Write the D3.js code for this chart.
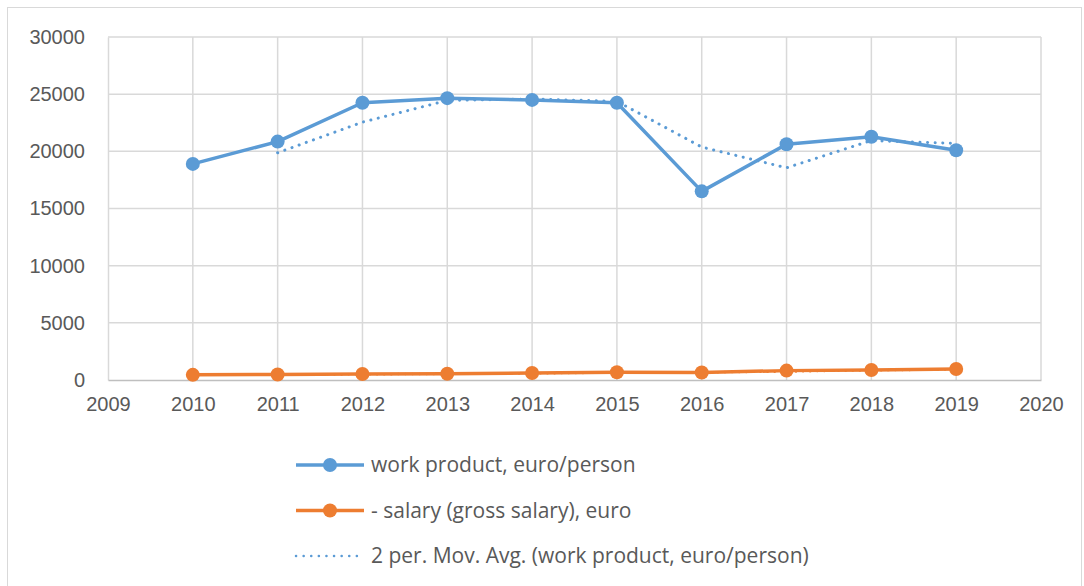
<!DOCTYPE html>
<html>
<head>
<meta charset="utf-8">
<script src="https://cdn.jsdelivr.net/npm/d3@7"></script>
<style>
  body { margin: 0; background: #fff; }
  svg { display: block; font-family: "Open Sans", "Liberation Sans", sans-serif; }
  .tick text { fill: #595959; font-size: 20px; }
  .legend text { fill: #595959; font-size: 21px; }
</style>
</head>
<body>
<svg width="1084" height="586"></svg>
<script>
// Chart data
let years = [2010, 2011, 2012, 2013, 2014, 2015, 2016, 2017, 2018, 2019];
let workProduct = [18900, 20850, 24250, 24650, 24500, 24250, 16500, 20620, 21270, 20100];
let salary = [450, 480, 520, 550, 610, 680, 660, 820, 880, 960];
let yTicks = [0, 5000, 10000, 15000, 20000, 25000, 30000];
let xTicks = [2009, 2010, 2011, 2012, 2013, 2014, 2015, 2016, 2017, 2018, 2019, 2020];
let legendLabels = ["work product, euro/person", "- salary (gross salary), euro", "2 per. Mov. Avg. (work product, euro/person)"];

let blue = "#5B9BD5";
let orange = "#ED7D31";

let svg = d3.select("svg");
let margin = {left: 108, right: 43, top: 37, bottom: 206};
let width = 1084 - margin.left - margin.right;
let height = 586 - margin.top - margin.bottom;

// outer chart border
svg.append("rect")
    .attr("x", 7.5).attr("y", 7.5)
    .attr("width", 1074).attr("height", 590)
    .attr("fill", "none")
    .attr("stroke", "#D9D9D9");

let x = d3.scaleLinear().domain([2009, 2020]).range([0, width]);
let y = d3.scaleLinear().domain([0, 30000]).range([height, 0]);

let g = svg.append("g")
    .attr("transform", "translate(" + margin.left + "," + margin.top + ")");

// gridlines
g.selectAll("line.hgrid")
    .data(yTicks.slice(1))
    .enter().append("line")
    .attr("class", "hgrid")
    .attr("x1", 0).attr("x2", width)
    .attr("y1", function(d) { return y(d); })
    .attr("y2", function(d) { return y(d); })
    .attr("stroke", "#D9D9D9").attr("stroke-width", 1.5);

g.selectAll("line.vgrid")
    .data(xTicks.slice(1))
    .enter().append("line")
    .attr("class", "vgrid")
    .attr("x1", function(d) { return x(d); })
    .attr("x2", function(d) { return x(d); })
    .attr("y1", 0).attr("y2", height)
    .attr("stroke", "#D9D9D9").attr("stroke-width", 1.5);

// axes
let yAxis = g.append("g")
    .call(d3.axisLeft(y).tickValues(yTicks).tickSize(0).tickPadding(23).tickFormat(d3.format("d")));
yAxis.select(".domain").attr("stroke", "#D9D9D9").attr("stroke-width", 1.5);

let xAxis = g.append("g")
    .attr("transform", "translate(0," + height + ")")
    .call(d3.axisBottom(x).tickValues(xTicks).tickSize(0).tickPadding(17).tickFormat(d3.format("d")));
xAxis.select(".domain").attr("stroke", "#BFBFBF").attr("stroke-width", 1.5);

// moving averages (2 period)
function movAvg(vals) {
    let out = [];
    for (let i = 1; i < vals.length; ++i) {
        out.push({year: years[i], v: (vals[i - 1] + vals[i]) / 2});
    }
    return out;
}

let line = d3.line()
    .x(function(d) { return x(d.year); })
    .y(function(d) { return y(d.v); });

function pairs(vals) {
    return vals.map(function(v, i) { return {year: years[i], v: v}; });
}

// salary trend (faint, not in legend)
g.append("path")
    .datum(movAvg(salary))
    .attr("d", line)
    .attr("fill", "none")
    .attr("stroke", orange)
    .attr("stroke-width", 2.5)
    .attr("stroke-linecap", "round")
    .attr("stroke-dasharray", "0.1 7");

// series lines
[[workProduct, blue], [salary, orange]].forEach(function(s) {
    g.append("path")
        .datum(pairs(s[0]))
        .attr("d", line)
        .attr("fill", "none")
        .attr("stroke", s[1])
        .attr("stroke-width", 3.5)
        .attr("stroke-linejoin", "round");

    g.selectAll(null)
        .data(pairs(s[0]))
        .enter().append("circle")
        .attr("cx", function(d) { return x(d.year); })
        .attr("cy", function(d) { return y(d.v); })
        .attr("r", 7)
        .attr("fill", s[1]);
});

// work product moving average
g.append("path")
    .datum(movAvg(workProduct))
    .attr("d", line)
    .attr("fill", "none")
    .attr("stroke", blue)
    .attr("stroke-width", 3)
    .attr("stroke-linecap", "round")
    .attr("stroke-dasharray", "0.1 7.5");

// legend
let legend = svg.append("g").attr("class", "legend")
    .attr("transform", "translate(296,465)");

let items = legend.selectAll("g.item")
    .data(legendLabels)
    .enter().append("g")
    .attr("class", "item")
    .attr("transform", function(d, i) { return "translate(0," + (i * 45.5) + ")"; });

items.append("line")
    .attr("x1", 0).attr("x2", 68)
    .attr("stroke", function(d, i) { return i == 1 ? orange : blue; })
    .attr("stroke-width", function(d, i) { return i == 2 ? 2.5 : 3.5; })
    .attr("stroke-linecap", function(d, i) { return i == 2 ? "round" : "butt"; })
    .attr("stroke-dasharray", function(d, i) { return i == 2 ? "0.1 7.5" : null; });

items.filter(function(d, i) { return i < 2; })
    .append("circle")
    .attr("cx", 34).attr("r", 7)
    .attr("fill", function(d, i) { return i == 1 ? orange : blue; });

items.append("text")
    .attr("x", 75)
    .attr("dy", "0.35em")
    .text(function(d) { return d; });
</script>
</body>
</html>
